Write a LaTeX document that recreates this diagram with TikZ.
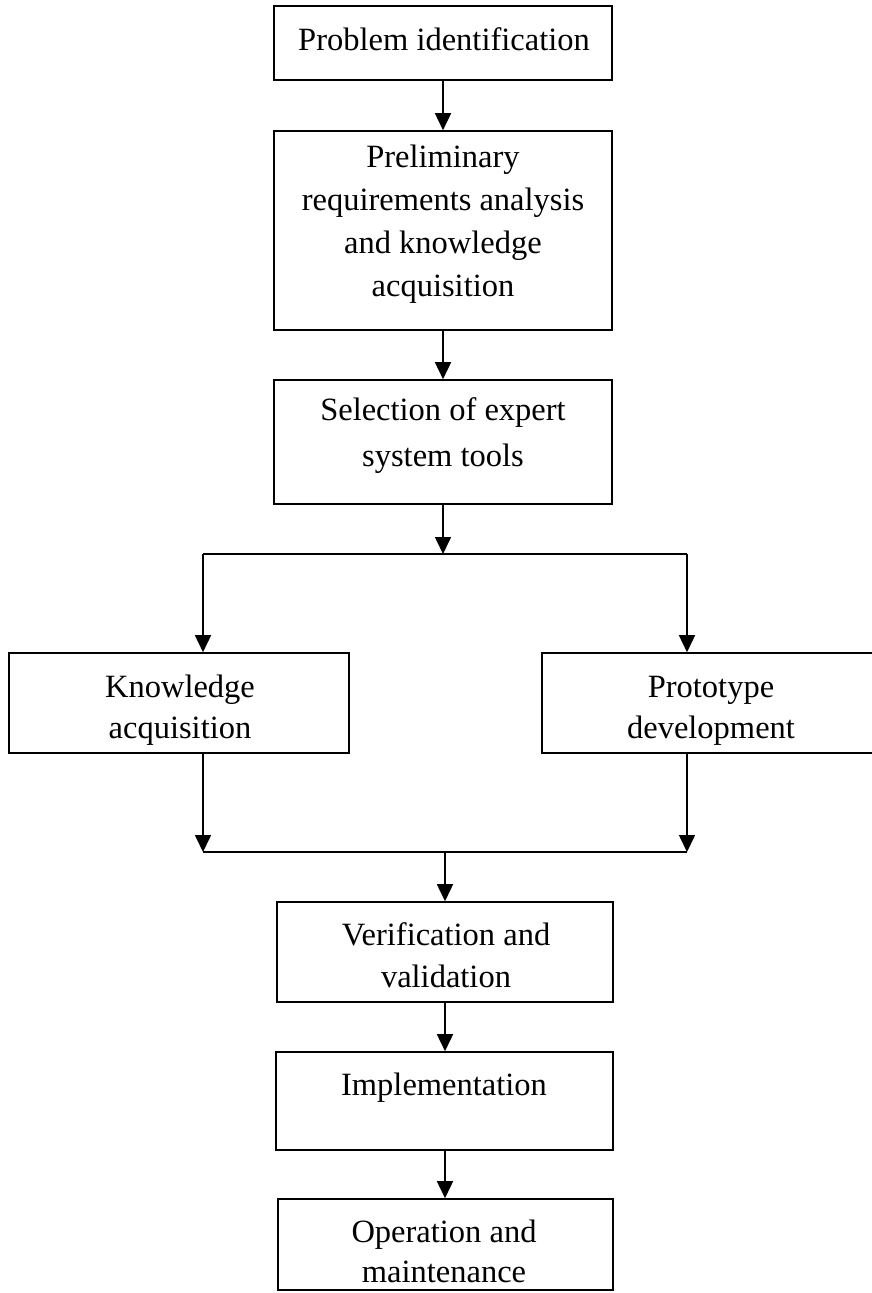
\documentclass[tikz,border=0pt]{standalone}
\usepackage{fontspec}
\setmainfont{Liberation Serif}
\usetikzlibrary{arrows.meta}

% text block whose base is the baseline of its first line
\newcommand{\stagetext}[1]{\begin{tabular}[t]{@{}c@{}}#1\end{tabular}}

\begin{document}
\begin{tikzpicture}[
  x=1pt, y=-1pt,
  stage/.style={draw, line width=1.6pt, inner sep=0pt, rectangle},
  label/.style={anchor=base, inner sep=0pt, font=\fontsize{32.5}{43}\selectfont},
  flow/.style={line width=1.6pt, -{Triangle[width=16pt,length=17pt]}},
  joint/.style={line width=1.6pt}
]
\useasboundingbox (0,0) rectangle (872,1293);

% stage boxes
\node[stage, minimum width=338pt, minimum height=74pt]  (b1) at (443,43) {};
\node[stage, minimum width=338pt, minimum height=199pt] (b2) at (443,230.5) {};
\node[stage, minimum width=338pt, minimum height=124pt] (b3) at (443,442) {};
\node[stage, minimum width=340pt, minimum height=100pt] (ka) at (179,703) {};
\node[stage, minimum width=334pt, minimum height=100pt] (pd) at (709,703) {};
\node[stage, minimum width=336pt, minimum height=100pt] (vv) at (445,952) {};
\node[stage, minimum width=337pt, minimum height=98pt]  (im) at (444.5,1101) {};
\node[stage, minimum width=335pt, minimum height=91pt]  (op) at (445.5,1244.5) {};

% stage texts
\node[label] (t1) at (444,50) {Problem identification};
\node[label] (t2) at (443,167) {\stagetext{Preliminary\\requirements analysis\\and knowledge\\acquisition}};
\node[label, font=\fontsize{32.5}{46}\selectfont] (t3) at (443,420) {\stagetext{Selection of expert\\system tools}};
\node[label, font=\fontsize{32.5}{41}\selectfont] (t4) at (180,697) {\stagetext{Knowledge\\acquisition}};
\node[label, font=\fontsize{32.5}{41}\selectfont] (t5) at (711,697) {\stagetext{Prototype\\development}};
\node[label, font=\fontsize{32.5}{42}\selectfont] (t6) at (446,945) {\stagetext{Verification and\\validation}};
\node[label] (t7) at (444,1095) {Implementation};
\node[label, font=\fontsize{32.5}{40}\selectfont] (t8) at (444,1242) {\stagetext{Operation and\\maintenance}};

% branch and merge points
\coordinate (split)  at (443,554);
\coordinate (splitL) at (203,554);
\coordinate (splitR) at (687,554);
\coordinate (merge)  at (445,852);
\coordinate (mergeL) at (203,852);
\coordinate (mergeR) at (687,852);

% connectors
\draw[flow] (b1.south) -- (b2.north);
\draw[flow] (b2.south) -- (b3.north);
\draw[flow] (b3.south) -- (split);
\draw[joint] (splitL) -- (splitR);
\draw[flow] (splitL) -- (splitL |- ka.north);
\draw[flow] (splitR) -- (splitR |- pd.north);
\draw[flow] (mergeL |- ka.south) -- (mergeL);
\draw[flow] (mergeR |- pd.south) -- (mergeR);
\draw[joint] (mergeL) -- (mergeR);
\draw[flow] (merge) -- (merge |- vv.north);
\draw[flow] (merge |- vv.south) -- (merge |- im.north);
\draw[flow] (merge |- im.south) -- (merge |- op.north);
\end{tikzpicture}
\end{document}
